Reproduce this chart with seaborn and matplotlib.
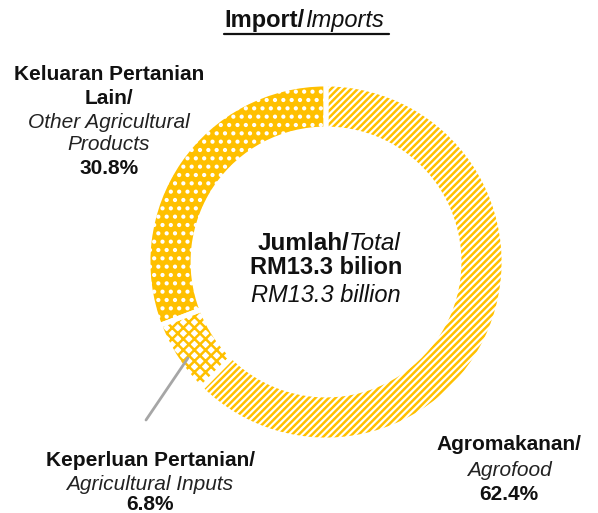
import matplotlib
matplotlib.use("Agg")
import matplotlib.pyplot as plt
import seaborn as sns

sns.set_style("white")
plt.rcParams["font.family"] = ["Liberation Sans", "DejaVu Sans"]
plt.rcParams["hatch.linewidth"] = 1.8

# data
segments_ms = ["Agromakanan/", "Keperluan Pertanian/", ["Keluaran Pertanian", "Lain/"]]
segments_en = ["Agrofood", "Agricultural Inputs", ["Other Agricultural", "Products"]]
shares = [62.4, 6.8, 30.8]
total_ms = "RM13.3 bilion"
total_en = "RM13.3 billion"

YELLOW = "#FFC000"
hatches = ["/////", "xxx", ".."]
faces = ["white", "white", YELLOW]
hatch_cols = [YELLOW, YELLOW, "white"]

W, H = 598, 513
fig = plt.figure(figsize=(W / 100, H / 100), dpi=100)
ax = fig.add_axes([0, 0, 1, 1])


def Y(py):
    return H - py


cx, cy, r_out, ring = 326, Y(262), 178, 45

wedges, _ = ax.pie(shares, startangle=90, counterclock=False, center=(cx, cy),
                   radius=r_out, wedgeprops=dict(width=ring, linewidth=0),
                   frame=True)
for w, hc, fc, ec in zip(wedges, hatches, faces, hatch_cols):
    w.set_facecolor(fc)
    w.set_edgecolor(ec)
    w.set_hatch(hc)
    w.set_linewidth(0)

# white gaps between segments
ax.pie(shares, startangle=90, counterclock=False, center=(cx, cy),
       radius=r_out, wedgeprops=dict(width=ring, linewidth=3.5,
                                     edgecolor="white", facecolor="none"),
       frame=True)
ax.set_xlim(0, W)
ax.set_ylim(0, H)
ax.set_aspect("equal")
ax.axis("off")

INK = "#111111"
SUB = "#222222"

# title
ax.text(305, Y(20), "Import/", ha="right", va="center", fontsize=17,
        fontweight="bold", color=INK)
ax.text(305, Y(20), "Imports", ha="left", va="center", fontsize=17,
        fontstyle="italic", color=INK)
ax.plot([224, 389], [Y(34), Y(34)], color=INK, lw=1.6)

# centre total
ax.text(349, Y(243), "Jumlah/", ha="right", va="center", fontsize=17.5,
        fontweight="bold", color=INK)
ax.text(349, Y(243), "Total", ha="left", va="center", fontsize=17.5,
        fontstyle="italic", color=INK)
ax.text(326, Y(268), total_ms, ha="center", va="center", fontsize=17,
        fontweight="bold", color=INK)
ax.text(326, Y(295), total_en, ha="center", va="center", fontsize=17,
        fontstyle="italic", color=INK)

fs = 15
# Keluaran Pertanian Lain
ax.text(109, Y(74), segments_ms[2][0], ha="center", va="center", fontsize=fs,
        fontweight="bold", color=INK)
ax.text(109, Y(98), segments_ms[2][1], ha="center", va="center", fontsize=fs,
        fontweight="bold", color=INK)
ax.text(109, Y(122), segments_en[2][0], ha="center", va="center", fontsize=fs,
        fontstyle="italic", color=SUB)
ax.text(109, Y(145), segments_en[2][1], ha="center", va="center", fontsize=fs,
        fontstyle="italic", color=SUB)
ax.text(109, Y(169), f"{shares[2]}%", ha="center", va="center", fontsize=fs,
        fontweight="bold", color=INK)

# Keperluan Pertanian
ax.text(150, Y(461), segments_ms[1], ha="center", va="center", fontsize=fs,
        fontweight="bold", color=INK)
ax.text(150, Y(485), segments_en[1], ha="center", va="center", fontsize=fs,
        fontstyle="italic", color=SUB)
ax.text(150, Y(505), f"{shares[1]}%", ha="center", va="center", fontsize=fs,
        fontweight="bold", color=INK)
ax.plot([188, 146], [Y(358), Y(420)], color="#A6A6A6", lw=2)

# Agromakanan
ax.text(509, Y(445), segments_ms[0], ha="center", va="center", fontsize=fs,
        fontweight="bold", color=INK)
ax.text(509, Y(470), segments_en[0], ha="center", va="center", fontsize=fs,
        fontstyle="italic", color=SUB)
ax.text(509, Y(494), f"{shares[0]}%", ha="center", va="center", fontsize=fs,
        fontweight="bold", color=INK)

fig.savefig("out.png", dpi=100)
